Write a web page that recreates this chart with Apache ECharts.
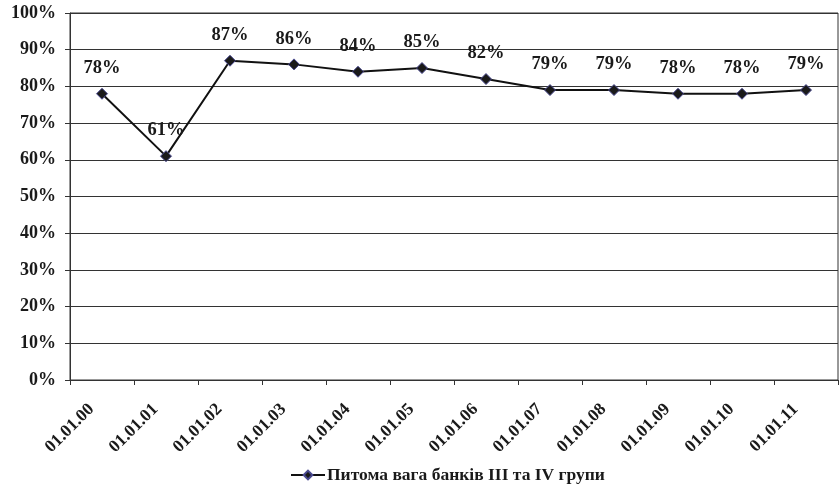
<!DOCTYPE html>
<html><head><meta charset="utf-8">
<script src="https://cdn.jsdelivr.net/npm/echarts@6/dist/echarts.min.js"></script>
<style>html,body{margin:0;padding:0;background:#fff}#c{width:839px;height:486px}</style>
</head><body><div id="c"></div>
<script>
const categories = ['01.01.00','01.01.01','01.01.02','01.01.03','01.01.04','01.01.05','01.01.06','01.01.07','01.01.08','01.01.09','01.01.10','01.01.11'];
const values = [78, 61, 87, 86, 84, 85, 82, 79, 79, 78, 78, 79];
const seriesName = 'Питома вага банків ІІІ та IV групи';
const font = '"Liberation Serif", "DejaVu Serif", serif';
const chart = echarts.init(document.getElementById('c'), null, {renderer:'canvas'});
chart.setOption({
  animation: false,
  backgroundColor: '#fff',
  grid: {left: 70, right: 1, top: 13, bottom: 106, show: true, borderColor: '#333', borderWidth: 1},
  legend: {
    top: 466, left: 290, itemWidth: 34, itemHeight: 11, itemGap: 5, padding: 0,
    textStyle: {fontFamily: font, fontWeight: 'bold', fontSize: 17.5, color: '#1a1a1a', padding: [0,0,0,-3]},
    data: [{name: seriesName}]
  },
  xAxis: {
    type: 'category', data: categories, boundaryGap: true,
    axisLine: {lineStyle: {color: '#333', width: 1}},
    axisTick: {show: true, length: 5, inside: false, lineStyle: {color: '#333'}},
    axisLabel: {rotate: 45, interval: 0, margin: 16, padding: [0, 15, 0, 0], fontFamily: font, fontWeight: 'bold', fontSize: 17.5, color: '#1a1a1a'}
  },
  yAxis: {
    type: 'value', min: 0, max: 100, interval: 10,
    axisLine: {show: true, lineStyle: {color: '#333', width: 1}},
    axisTick: {show: true, length: 5, lineStyle: {color: '#333'}},
    splitLine: {lineStyle: {color: '#333', width: 1}},
    axisLabel: {formatter: '{value}%', margin: 14, fontFamily: font, fontWeight: 'bold', fontSize: 18, color: '#1a1a1a'}
  },
  series: [{
    name: seriesName, type: 'line', data: values,
    symbol: 'diamond', symbolSize: 11,
    lineStyle: {color: '#111', width: 2},
    itemStyle: {color: '#1a1a1a', borderColor: '#4a4a90', borderWidth: 1},
    label: {show: true, position: 'top', distance: 10, formatter: '{c}%', fontFamily: font, fontWeight: 'bold', fontSize: 18.5, color: '#1a1a1a'}
  }]
});
</script></body></html>
